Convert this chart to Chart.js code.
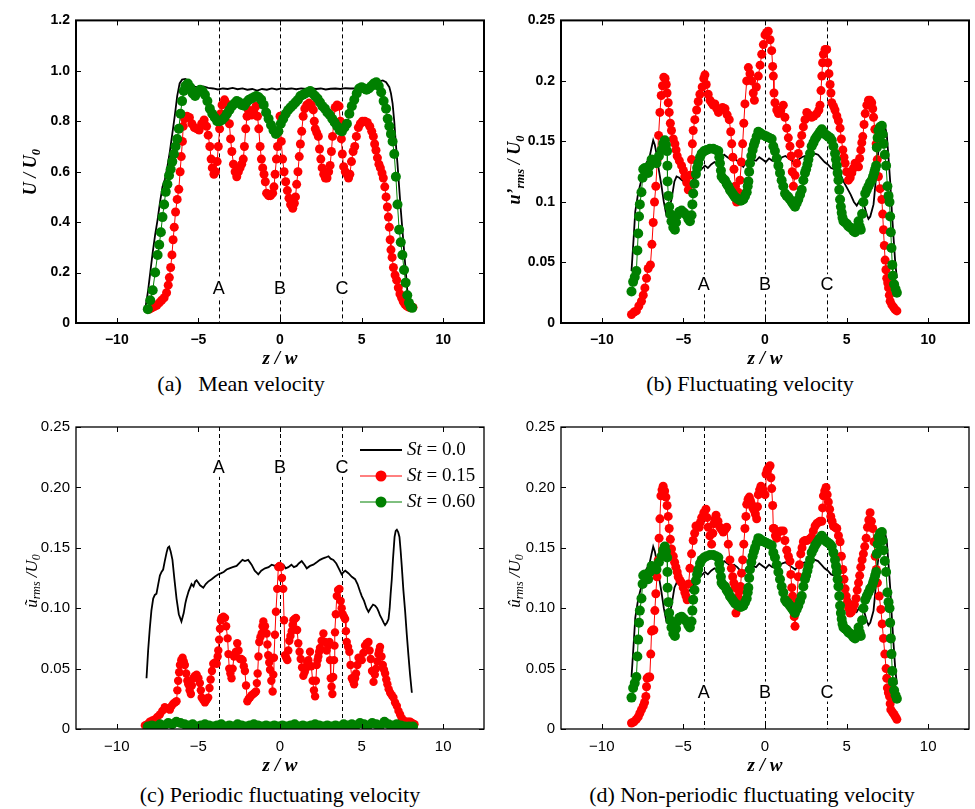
<!DOCTYPE html>
<html>
<head>
<meta charset="utf-8">
<script src="https://cdn.jsdelivr.net/npm/chart.js@4.4.1/dist/chart.umd.min.js"></script>
<style>
  body { margin: 0; background: #fff; width: 975px; height: 809px; position: relative; overflow: hidden; }
  canvas { position: absolute; }
  .lbl { position: absolute; white-space: nowrap; font-family: "Liberation Serif", "Times New Roman", serif; color: #000; line-height: 1; }
  .ytitle { transform: translate(-50%, -50%) rotate(-90deg); font-size: 18px; font-style: italic; }
  .small { font-size: 17px; }
  .xtitle { transform: translate(-50%, -50%); font-size: 19px; font-style: italic; font-weight: bold; }
  .cap { transform: translate(-50%, -50%); font-size: 22px; }
  .bold { font-weight: bold; }
  sub { font-size: 70%; vertical-align: -0.3em; }
</style>
</head>
<body>
<canvas id="pa"></canvas>
<canvas id="pb"></canvas>
<canvas id="pc"></canvas>
<canvas id="pd"></canvas>

<div class="lbl ytitle bold" style="left:32px; top:172px;">U / U<sub>0</sub></div>
<div class="lbl ytitle bold" style="left:516px; top:170px;">u&#8217;<sub>rms</sub> / U<sub>0</sub></div>
<div class="lbl ytitle small" style="left:33px; top:581px;">&#361;<sub>rms</sub> /U<sub>0</sub></div>
<div class="lbl ytitle small" style="left:516px; top:581px;">&#251;<sub>rms</sub> /U<sub>0</sub></div>

<div class="lbl xtitle" style="left:280px; top:357px;">z / w</div>
<div class="lbl xtitle" style="left:765px; top:357px;">z / w</div>
<div class="lbl xtitle" style="left:280px; top:764px;">z / w</div>
<div class="lbl xtitle" style="left:765px; top:764px;">z / w</div>

<div class="lbl cap" style="left:241px; top:384px;">(a)&nbsp;&nbsp;&nbsp;Mean velocity</div>
<div class="lbl cap" style="left:750px; top:384px;">(b) Fluctuating velocity</div>
<div class="lbl cap" style="left:280px; top:795px;">(c) Periodic fluctuating velocity</div>
<div class="lbl cap" style="left:752px; top:795px;">(d) Non-periodic fluctuating velocity</div>

<script>
// ---- data (z/w, value) ----
const zTicks = [-10, -5, 0, 5, 10];
const zTickLabels = ['\u221210', '\u22125', '0', '5', '10'];
const refZ = [-3.75, 0, 3.8];
const refNames = ['A', 'B', 'C'];
const legendNames = ['0.0', '0.15', '0.60'];

const aTicks = [0, 0.2, 0.4, 0.6, 0.8, 1.0, 1.2];
const aTickLabels = ['0', '0.2', '0.4', '0.6', '0.8', '1.0', '1.2'];
const bTicks = [0, 0.05, 0.1, 0.15, 0.2, 0.25];
const bTickLabels = ['0', '0.05', '0.1', '0.15', '0.2', '0.25'];
const cdTickLabels = ['0', '0.05', '0.10', '0.15', '0.20', '0.25'];

// (a) mean velocity U/U0
const aBlack = [[-8.25,0.06],[-8.1,0.12],[-7.95,0.2],[-7.8,0.28],[-7.65,0.35],[-7.5,0.41],[-7.35,0.48],[-7.2,0.54],[-7.05,0.57],[-6.9,0.62],[-6.75,0.68],[-6.6,0.75],[-6.45,0.82],[-6.3,0.9],[-6.15,0.95],[-6.0,0.965],[-5.8,0.968],[-5.6,0.96],[-5.4,0.94],[-5.2,0.937],[-5.0,0.935],[-4.7,0.938],[-4.4,0.932],[-4.1,0.93],[-3.8,0.926],[-3.5,0.93],[-3.2,0.928],[-2.9,0.932],[-2.6,0.927],[-2.3,0.93],[-2.0,0.925],[-1.7,0.928],[-1.4,0.922],[-1.1,0.928],[-0.8,0.925],[-0.5,0.93],[-0.2,0.926],[0.1,0.93],[0.4,0.928],[0.7,0.93],[1.0,0.927],[1.3,0.93],[1.6,0.928],[1.9,0.931],[2.2,0.928],[2.5,0.93],[2.8,0.926],[3.1,0.929],[3.4,0.93],[3.7,0.928],[4.0,0.931],[4.3,0.93],[4.6,0.93],[4.9,0.932],[5.2,0.933],[5.5,0.94],[5.8,0.95],[6.1,0.958],[6.3,0.962],[6.5,0.955],[6.7,0.935],[6.8,0.91],[6.9,0.87],[7.0,0.8],[7.1,0.71],[7.2,0.63],[7.3,0.54],[7.4,0.45],[7.5,0.37],[7.6,0.29],[7.7,0.21],[7.8,0.13],[7.9,0.08],[8.0,0.06]];
const aRed = [[-8.0,0.055],[-7.85,0.06],[-7.7,0.065],[-7.55,0.07],[-7.4,0.08],[-7.25,0.09],[-7.1,0.1],[-6.95,0.12],[-6.85,0.15],[-6.78,0.18],[-6.7,0.22],[-6.62,0.27],[-6.55,0.33],[-6.48,0.38],[-6.4,0.44],[-6.3,0.49],[-6.2,0.53],[-6.12,0.6],[-6.05,0.66],[-5.98,0.72],[-5.93,0.78],[-5.85,0.81],[-5.7,0.82],[-5.55,0.815],[-5.4,0.79],[-5.25,0.775],[-5.1,0.77],[-4.95,0.765],[-4.8,0.79],[-4.65,0.805],[-4.5,0.78],[-4.4,0.745],[-4.3,0.7],[-4.22,0.65],[-4.15,0.615],[-4.05,0.59],[-3.95,0.6],[-3.85,0.64],[-3.78,0.7],[-3.7,0.77],[-3.63,0.83],[-3.55,0.865],[-3.4,0.885],[-3.28,0.87],[-3.17,0.84],[-3.1,0.79],[-3.03,0.73],[-2.95,0.68],[-2.85,0.63],[-2.75,0.6],[-2.65,0.58],[-2.55,0.6],[-2.45,0.615],[-2.35,0.63],[-2.25,0.65],[-2.18,0.7],[-2.1,0.77],[-2.02,0.82],[-1.94,0.845],[-1.84,0.835],[-1.74,0.825],[-1.6,0.845],[-1.47,0.86],[-1.38,0.82],[-1.3,0.77],[-1.22,0.7],[-1.14,0.65],[-1.06,0.615],[-0.98,0.59],[-0.9,0.56],[-0.82,0.515],[-0.7,0.505],[-0.58,0.505],[-0.45,0.515],[-0.37,0.54],[-0.3,0.59],[-0.22,0.65],[-0.15,0.7],[-0.08,0.76],[0.0,0.82],[0.08,0.72],[0.16,0.65],[0.25,0.6],[0.35,0.56],[0.45,0.525],[0.55,0.495],[0.65,0.47],[0.78,0.455],[0.88,0.475],[0.95,0.5],[1.02,0.55],[1.1,0.6],[1.18,0.66],[1.25,0.71],[1.33,0.76],[1.42,0.82],[1.52,0.85],[1.64,0.865],[1.78,0.872],[1.92,0.865],[2.04,0.845],[2.1,0.8],[2.16,0.77],[2.25,0.755],[2.35,0.74],[2.42,0.69],[2.5,0.65],[2.58,0.615],[2.68,0.59],[2.78,0.575],[2.88,0.575],[2.98,0.6],[3.07,0.625],[3.15,0.68],[3.22,0.74],[3.3,0.8],[3.38,0.855],[3.5,0.865],[3.62,0.86],[3.7,0.8],[3.76,0.73],[3.82,0.67],[3.9,0.62],[4.0,0.6],[4.1,0.59],[4.2,0.575],[4.28,0.59],[4.38,0.64],[4.48,0.68],[4.58,0.7],[4.68,0.74],[4.8,0.775],[4.92,0.79],[5.05,0.8],[5.2,0.8],[5.35,0.795],[5.5,0.78],[5.62,0.76],[5.72,0.74],[5.8,0.71],[5.88,0.685],[5.97,0.655],[6.06,0.63],[6.15,0.615],[6.25,0.595],[6.33,0.575],[6.42,0.54],[6.5,0.5],[6.58,0.46],[6.64,0.42],[6.7,0.38],[6.75,0.33],[6.8,0.29],[6.87,0.26],[6.95,0.22],[7.05,0.19],[7.15,0.17],[7.25,0.14],[7.35,0.115],[7.45,0.1],[7.55,0.085],[7.65,0.075],[7.75,0.068],[7.88,0.063],[8.0,0.06],[8.15,0.062]];
const aGreen = [[-8.1,0.055],[-7.95,0.09],[-7.8,0.13],[-7.65,0.2],[-7.5,0.27],[-7.4,0.31],[-7.3,0.36],[-7.2,0.42],[-7.1,0.47],[-7.0,0.52],[-6.9,0.55],[-6.8,0.585],[-6.7,0.61],[-6.6,0.64],[-6.5,0.67],[-6.4,0.7],[-6.3,0.73],[-6.2,0.77],[-6.1,0.83],[-6.0,0.88],[-5.9,0.92],[-5.8,0.94],[-5.65,0.95],[-5.5,0.935],[-5.35,0.91],[-5.2,0.9],[-5.05,0.915],[-4.9,0.925],[-4.75,0.92],[-4.6,0.905],[-4.45,0.88],[-4.3,0.85],[-4.15,0.83],[-4.0,0.815],[-3.85,0.8],[-3.7,0.8],[-3.55,0.805],[-3.4,0.815],[-3.25,0.83],[-3.1,0.845],[-2.95,0.86],[-2.8,0.87],[-2.65,0.88],[-2.5,0.875],[-2.35,0.865],[-2.2,0.862],[-2.05,0.875],[-1.9,0.885],[-1.75,0.89],[-1.6,0.895],[-1.45,0.9],[-1.3,0.895],[-1.15,0.885],[-1.0,0.865],[-0.85,0.835],[-0.7,0.81],[-0.55,0.785],[-0.4,0.765],[-0.25,0.75],[-0.1,0.76],[0.05,0.79],[0.2,0.81],[0.35,0.83],[0.5,0.845],[0.65,0.855],[0.8,0.865],[0.95,0.875],[1.1,0.885],[1.25,0.9],[1.4,0.905],[1.55,0.91],[1.7,0.915],[1.85,0.92],[2.0,0.91],[2.15,0.9],[2.3,0.89],[2.45,0.875],[2.6,0.86],[2.75,0.85],[2.9,0.835],[3.05,0.825],[3.2,0.81],[3.35,0.795],[3.5,0.78],[3.65,0.765],[3.8,0.76],[3.95,0.775],[4.1,0.79],[4.25,0.83],[4.4,0.86],[4.55,0.885],[4.7,0.91],[4.85,0.93],[5.0,0.935],[5.15,0.93],[5.3,0.925],[5.45,0.93],[5.6,0.94],[5.75,0.95],[5.9,0.955],[6.05,0.94],[6.2,0.915],[6.35,0.88],[6.5,0.85],[6.6,0.81],[6.7,0.78],[6.8,0.75],[6.9,0.72],[7.0,0.67],[7.1,0.58],[7.2,0.47],[7.3,0.37],[7.4,0.32],[7.5,0.27],[7.6,0.21],[7.7,0.16],[7.8,0.11],[7.9,0.08],[8.0,0.065],[8.1,0.06]];

// (b) fluctuating velocity u'rms/U0  (black and green also used in (d))
const bBlack = [[-8.18,0.043],[-8.05,0.07],[-7.95,0.092],[-7.8,0.105],[-7.67,0.113],[-7.5,0.122],[-7.36,0.13],[-7.2,0.134],[-7.06,0.138],[-6.95,0.145],[-6.85,0.151],[-6.75,0.147],[-6.65,0.14],[-6.5,0.126],[-6.34,0.113],[-6.2,0.1],[-6.04,0.089],[-5.9,0.093],[-5.73,0.102],[-5.55,0.117],[-5.42,0.121],[-5.25,0.12],[-5.1,0.118],[-4.9,0.116],[-4.7,0.114],[-4.5,0.116],[-4.3,0.122],[-4.1,0.125],[-3.9,0.127],[-3.68,0.13],[-3.5,0.128],[-3.3,0.131],[-3.1,0.133],[-2.9,0.131],[-2.7,0.136],[-2.5,0.139],[-2.3,0.137],[-2.1,0.135],[-1.9,0.136],[-1.7,0.134],[-1.5,0.131],[-1.33,0.129],[-1.15,0.133],[-0.95,0.136],[-0.75,0.135],[-0.55,0.134],[-0.35,0.137],[-0.15,0.135],[0.05,0.133],[0.25,0.136],[0.45,0.134],[0.65,0.136],[0.85,0.134],[1.05,0.137],[1.25,0.138],[1.45,0.136],[1.65,0.134],[1.85,0.132],[2.05,0.135],[2.25,0.137],[2.45,0.138],[2.65,0.136],[2.85,0.138],[3.05,0.14],[3.25,0.139],[3.45,0.136],[3.65,0.133],[3.85,0.131],[4.05,0.128],[4.25,0.127],[4.45,0.125],[4.65,0.122],[4.85,0.116],[5.05,0.111],[5.25,0.106],[5.45,0.1],[5.62,0.097],[5.8,0.101],[5.95,0.102],[6.1,0.096],[6.25,0.089],[6.34,0.086],[6.45,0.088],[6.55,0.093],[6.65,0.098],[6.75,0.112],[6.85,0.13],[6.95,0.142],[7.05,0.152],[7.15,0.16],[7.26,0.163],[7.36,0.162],[7.46,0.156],[7.56,0.138],[7.67,0.117],[7.77,0.093],[7.88,0.07],[7.98,0.05],[8.08,0.037]];
const bRed = [[-8.18,0.007],[-8.03,0.009],[-7.88,0.01],[-7.73,0.014],[-7.57,0.018],[-7.46,0.023],[-7.36,0.029],[-7.26,0.037],[-7.16,0.045],[-7.02,0.048],[-6.93,0.065],[-6.85,0.083],[-6.77,0.1],[-6.69,0.113],[-6.6,0.135],[-6.52,0.155],[-6.44,0.174],[-6.36,0.188],[-6.28,0.196],[-6.2,0.203],[-6.12,0.202],[-6.05,0.197],[-6.0,0.19],[-5.93,0.182],[-5.87,0.174],[-5.8,0.165],[-5.73,0.159],[-5.62,0.152],[-5.52,0.148],[-5.45,0.143],[-5.38,0.138],[-5.25,0.134],[-5.11,0.13],[-5.0,0.126],[-4.91,0.121],[-4.8,0.116],[-4.7,0.11],[-4.6,0.122],[-4.5,0.135],[-4.45,0.148],[-4.4,0.159],[-4.3,0.168],[-4.19,0.176],[-4.09,0.183],[-3.99,0.189],[-3.85,0.195],[-3.75,0.202],[-3.68,0.205],[-3.6,0.197],[-3.48,0.189],[-3.37,0.184],[-3.27,0.182],[-3.17,0.18],[-3.07,0.181],[-2.95,0.177],[-2.85,0.174],[-2.76,0.176],[-2.6,0.178],[-2.45,0.177],[-2.32,0.172],[-2.19,0.168],[-2.1,0.158],[-2.04,0.148],[-1.97,0.137],[-1.9,0.127],[-1.82,0.113],[-1.74,0.1],[-1.64,0.108],[-1.53,0.118],[-1.45,0.133],[-1.37,0.148],[-1.3,0.165],[-1.23,0.181],[-1.12,0.2],[-1.02,0.211],[-0.92,0.206],[-0.82,0.2],[-0.72,0.19],[-0.65,0.184],[-0.53,0.195],[-0.41,0.204],[-0.3,0.213],[-0.2,0.222],[-0.1,0.23],[0.0,0.238],[0.1,0.24],[0.2,0.241],[0.31,0.234],[0.41,0.225],[0.47,0.212],[0.51,0.204],[0.55,0.19],[0.61,0.182],[0.72,0.176],[0.82,0.173],[0.97,0.176],[1.12,0.18],[1.22,0.17],[1.33,0.161],[1.43,0.153],[1.53,0.146],[1.6,0.138],[1.67,0.125],[1.74,0.113],[1.84,0.122],[1.94,0.132],[2.04,0.14],[2.15,0.148],[2.25,0.155],[2.35,0.162],[2.45,0.168],[2.56,0.174],[2.7,0.172],[2.86,0.17],[3.0,0.171],[3.17,0.173],[3.3,0.176],[3.37,0.18],[3.43,0.192],[3.48,0.204],[3.53,0.215],[3.58,0.222],[3.68,0.226],[3.78,0.226],[3.85,0.215],[3.92,0.206],[3.99,0.197],[4.04,0.19],[4.09,0.182],[4.2,0.179],[4.29,0.176],[4.4,0.171],[4.5,0.167],[4.6,0.161],[4.68,0.152],[4.77,0.143],[4.84,0.137],[4.91,0.132],[5.0,0.125],[5.11,0.118],[5.22,0.12],[5.32,0.124],[5.42,0.128],[5.52,0.132],[5.62,0.13],[5.73,0.129],[5.8,0.136],[5.87,0.143],[5.93,0.149],[5.99,0.154],[6.07,0.164],[6.14,0.173],[6.24,0.18],[6.34,0.184],[6.44,0.184],[6.54,0.182],[6.6,0.177],[6.65,0.17],[6.73,0.16],[6.81,0.148],[6.88,0.135],[6.95,0.121],[7.05,0.111],[7.16,0.102],[7.21,0.09],[7.26,0.077],[7.31,0.064],[7.36,0.052],[7.41,0.044],[7.46,0.037],[7.52,0.033],[7.57,0.029],[7.62,0.023],[7.67,0.018],[7.77,0.015],[7.88,0.013],[7.98,0.011],[8.08,0.01]];
const bGreen = [[-8.18,0.026],[-8.08,0.034],[-7.98,0.038],[-7.88,0.043],[-7.82,0.06],[-7.77,0.074],[-7.72,0.088],[-7.67,0.098],[-7.57,0.108],[-7.5,0.12],[-7.46,0.127],[-7.36,0.128],[-7.26,0.126],[-7.16,0.124],[-7.06,0.13],[-6.95,0.135],[-6.85,0.134],[-6.75,0.133],[-6.65,0.132],[-6.5,0.138],[-6.34,0.143],[-6.24,0.148],[-6.14,0.151],[-6.07,0.147],[-6.0,0.142],[-5.98,0.13],[-5.97,0.117],[-5.92,0.105],[-5.87,0.096],[-5.8,0.09],[-5.73,0.084],[-5.62,0.079],[-5.52,0.077],[-5.45,0.083],[-5.38,0.089],[-5.25,0.092],[-5.11,0.093],[-4.96,0.091],[-4.81,0.089],[-4.7,0.086],[-4.6,0.084],[-4.5,0.089],[-4.45,0.098],[-4.4,0.107],[-4.32,0.115],[-4.23,0.123],[-4.16,0.128],[-4.09,0.132],[-3.98,0.137],[-3.88,0.14],[-3.73,0.142],[-3.58,0.143],[-3.38,0.144],[-3.17,0.144],[-3.0,0.143],[-2.86,0.142],[-2.8,0.137],[-2.76,0.132],[-2.7,0.126],[-2.66,0.121],[-2.55,0.119],[-2.45,0.118],[-2.35,0.115],[-2.25,0.113],[-2.15,0.11],[-2.04,0.108],[-1.94,0.106],[-1.84,0.104],[-1.73,0.103],[-1.63,0.102],[-1.48,0.101],[-1.33,0.102],[-1.22,0.105],[-1.12,0.108],[-1.06,0.113],[-1.02,0.117],[-0.97,0.125],[-0.92,0.132],[-0.84,0.138],[-0.76,0.143],[-0.68,0.147],[-0.61,0.15],[-0.51,0.154],[-0.41,0.158],[-0.3,0.157],[-0.2,0.156],[-0.05,0.155],[0.1,0.154],[0.25,0.153],[0.41,0.152],[0.51,0.146],[0.61,0.142],[0.72,0.136],[0.82,0.13],[0.92,0.124],[1.02,0.118],[1.12,0.113],[1.23,0.107],[1.33,0.105],[1.43,0.104],[1.53,0.102],[1.64,0.1],[1.74,0.098],[1.84,0.096],[1.94,0.099],[2.04,0.102],[2.15,0.106],[2.25,0.11],[2.35,0.118],[2.45,0.124],[2.52,0.127],[2.6,0.131],[2.66,0.135],[2.76,0.14],[2.86,0.146],[2.97,0.149],[3.07,0.152],[3.17,0.154],[3.27,0.156],[3.37,0.158],[3.48,0.16],[3.58,0.158],[3.68,0.156],[3.78,0.155],[3.88,0.154],[3.99,0.153],[4.09,0.151],[4.19,0.146],[4.29,0.14],[4.35,0.135],[4.4,0.13],[4.45,0.124],[4.5,0.118],[4.55,0.11],[4.6,0.102],[4.65,0.096],[4.7,0.091],[4.75,0.087],[4.81,0.084],[4.91,0.083],[5.01,0.082],[5.11,0.08],[5.21,0.079],[5.32,0.078],[5.42,0.076],[5.52,0.075],[5.62,0.079],[5.73,0.084],[5.8,0.08],[5.87,0.077],[5.95,0.09],[6.03,0.1],[6.14,0.107],[6.24,0.11],[6.34,0.113],[6.44,0.116],[6.54,0.118],[6.62,0.121],[6.69,0.124],[6.75,0.127],[6.81,0.13],[6.85,0.145],[6.9,0.153],[6.95,0.159],[7.05,0.162],[7.16,0.163],[7.21,0.156],[7.26,0.148],[7.34,0.139],[7.42,0.13],[7.5,0.113],[7.57,0.105],[7.63,0.1],[7.67,0.088],[7.71,0.075],[7.75,0.062],[7.8,0.048],[7.83,0.039],[7.91,0.032],[8.0,0.028],[8.08,0.025]];

// (c) periodic fluctuating velocity
const cBlack = [[-8.18,0.042],[-8.08,0.065],[-7.98,0.083],[-7.88,0.098],[-7.77,0.108],[-7.67,0.111],[-7.57,0.112],[-7.46,0.12],[-7.36,0.127],[-7.26,0.13],[-7.16,0.132],[-7.06,0.139],[-6.95,0.146],[-6.87,0.15],[-6.79,0.151],[-6.7,0.147],[-6.59,0.14],[-6.47,0.124],[-6.34,0.108],[-6.2,0.095],[-6.04,0.089],[-5.9,0.096],[-5.8,0.104],[-5.73,0.108],[-5.6,0.114],[-5.42,0.12],[-5.3,0.118],[-5.2,0.122],[-5.11,0.123],[-5.0,0.121],[-4.9,0.119],[-4.8,0.118],[-4.7,0.117],[-4.55,0.12],[-4.4,0.122],[-4.19,0.124],[-4.0,0.126],[-3.78,0.128],[-3.6,0.129],[-3.45,0.13],[-3.27,0.132],[-3.1,0.133],[-2.9,0.134],[-2.66,0.135],[-2.45,0.138],[-2.3,0.14],[-2.15,0.139],[-1.95,0.14],[-1.74,0.136],[-1.55,0.131],[-1.4,0.129],[-1.33,0.128],[-1.15,0.131],[-0.92,0.133],[-0.7,0.134],[-0.51,0.136],[-0.3,0.135],[-0.1,0.137],[0.0,0.135],[0.2,0.136],[0.35,0.133],[0.51,0.134],[0.7,0.136],[0.85,0.134],[1.02,0.135],[1.15,0.137],[1.33,0.139],[1.5,0.136],[1.64,0.133],[1.84,0.135],[2.04,0.136],[2.25,0.138],[2.45,0.14],[2.6,0.141],[2.8,0.142],[2.97,0.143],[3.1,0.141],[3.27,0.14],[3.45,0.137],[3.6,0.133],[3.78,0.128],[3.9,0.13],[4.0,0.131],[4.19,0.129],[4.4,0.126],[4.6,0.124],[4.75,0.12],[4.9,0.114],[5.01,0.11],[5.15,0.106],[5.3,0.1],[5.42,0.097],[5.55,0.1],[5.7,0.103],[5.83,0.102],[5.95,0.1],[6.05,0.097],[6.13,0.094],[6.25,0.091],[6.35,0.088],[6.44,0.086],[6.55,0.088],[6.65,0.091],[6.72,0.1],[6.78,0.112],[6.85,0.124],[6.92,0.14],[7.02,0.159],[7.09,0.164],[7.16,0.165],[7.24,0.163],[7.32,0.159],[7.39,0.148],[7.46,0.135],[7.56,0.115],[7.67,0.097],[7.77,0.078],[7.87,0.061],[7.97,0.045],[8.08,0.03]];
const cRed = [[-8.28,0.003],[-8.13,0.004],[-7.98,0.006],[-7.82,0.007],[-7.67,0.008],[-7.52,0.01],[-7.36,0.012],[-7.21,0.015],[-7.06,0.018],[-6.9,0.017],[-6.75,0.016],[-6.64,0.019],[-6.54,0.021],[-6.44,0.022],[-6.34,0.023],[-6.29,0.032],[-6.24,0.04],[-6.18,0.047],[-6.13,0.053],[-6.05,0.057],[-5.97,0.059],[-5.9,0.056],[-5.83,0.053],[-5.75,0.046],[-5.68,0.04],[-5.62,0.037],[-5.54,0.032],[-5.46,0.029],[-5.4,0.036],[-5.32,0.042],[-5.22,0.044],[-5.11,0.045],[-5.0,0.042],[-4.91,0.038],[-4.85,0.032],[-4.8,0.026],[-4.7,0.024],[-4.6,0.022],[-4.5,0.024],[-4.4,0.026],[-4.32,0.034],[-4.25,0.041],[-4.17,0.048],[-4.09,0.054],[-3.98,0.055],[-3.88,0.054],[-3.82,0.06],[-3.78,0.065],[-3.73,0.074],[-3.68,0.083],[-3.62,0.09],[-3.58,0.092],[-3.47,0.093],[-3.37,0.092],[-3.3,0.085],[-3.21,0.075],[-3.16,0.062],[-3.11,0.05],[-3.04,0.046],[-2.97,0.042],[-2.9,0.05],[-2.82,0.06],[-2.76,0.062],[-2.7,0.064],[-2.62,0.071],[-2.54,0.065],[-2.45,0.058],[-2.37,0.058],[-2.29,0.057],[-2.22,0.052],[-2.15,0.048],[-2.08,0.036],[-2.0,0.023],[-1.92,0.025],[-1.84,0.026],[-1.74,0.028],[-1.64,0.029],[-1.55,0.03],[-1.47,0.031],[-1.42,0.038],[-1.37,0.046],[-1.32,0.06],[-1.27,0.072],[-1.2,0.076],[-1.12,0.079],[-1.07,0.085],[-1.02,0.089],[-0.92,0.085],[-0.82,0.079],[-0.77,0.07],[-0.72,0.061],[-0.66,0.055],[-0.61,0.049],[-0.53,0.04],[-0.45,0.031],[-0.41,0.045],[-0.37,0.059],[-0.31,0.078],[-0.25,0.097],[-0.17,0.116],[-0.1,0.134],[-0.03,0.135],[0.04,0.134],[0.12,0.125],[0.2,0.116],[0.25,0.09],[0.31,0.061],[0.38,0.059],[0.45,0.057],[0.51,0.065],[0.57,0.073],[0.64,0.077],[0.72,0.081],[0.77,0.086],[0.82,0.09],[0.9,0.091],[0.98,0.092],[1.05,0.082],[1.12,0.071],[1.2,0.064],[1.27,0.058],[1.35,0.051],[1.43,0.044],[1.51,0.047],[1.59,0.05],[1.67,0.055],[1.74,0.057],[1.84,0.064],[1.92,0.052],[2.0,0.04],[2.08,0.032],[2.15,0.027],[2.2,0.04],[2.25,0.053],[2.3,0.057],[2.35,0.06],[2.4,0.064],[2.45,0.067],[2.55,0.073],[2.66,0.079],[2.76,0.072],[2.86,0.065],[2.95,0.069],[3.03,0.072],[3.07,0.057],[3.11,0.042],[3.16,0.035],[3.21,0.029],[3.26,0.043],[3.31,0.057],[3.34,0.069],[3.37,0.08],[3.42,0.095],[3.48,0.11],[3.56,0.115],[3.64,0.116],[3.72,0.106],[3.78,0.1],[3.84,0.095],[3.92,0.093],[3.99,0.091],[4.04,0.081],[4.09,0.072],[4.17,0.068],[4.25,0.064],[4.32,0.053],[4.4,0.042],[4.47,0.04],[4.54,0.037],[4.6,0.042],[4.66,0.046],[4.74,0.053],[4.81,0.059],[4.91,0.058],[5.01,0.057],[5.11,0.063],[5.21,0.069],[5.32,0.071],[5.42,0.072],[5.49,0.065],[5.56,0.058],[5.64,0.048],[5.73,0.039],[5.81,0.045],[5.89,0.05],[5.96,0.056],[6.03,0.062],[6.08,0.065],[6.13,0.068],[6.22,0.06],[6.3,0.053],[6.37,0.049],[6.44,0.046],[6.51,0.041],[6.58,0.037],[6.66,0.033],[6.75,0.03],[6.85,0.028],[6.95,0.026],[7.05,0.022],[7.16,0.019],[7.26,0.015],[7.36,0.012],[7.46,0.009],[7.57,0.007],[7.67,0.006],[7.77,0.006],[7.88,0.006],[7.98,0.006],[8.1,0.005],[8.24,0.004]];
const cGreen = [[-8.1,0.002],[-7.85,0.003],[-7.6,0.002],[-7.35,0.004],[-7.1,0.003],[-6.85,0.005],[-6.6,0.004],[-6.35,0.006],[-6.1,0.005],[-5.85,0.004],[-5.6,0.003],[-5.35,0.004],[-5.1,0.002],[-4.85,0.003],[-4.6,0.004],[-4.35,0.003],[-4.1,0.002],[-3.85,0.003],[-3.6,0.004],[-3.35,0.002],[-3.1,0.003],[-2.85,0.002],[-2.6,0.004],[-2.35,0.003],[-2.1,0.002],[-1.85,0.003],[-1.6,0.004],[-1.35,0.003],[-1.1,0.002],[-0.85,0.003],[-0.6,0.002],[-0.35,0.003],[-0.1,0.002],[0.15,0.003],[0.4,0.002],[0.65,0.003],[0.9,0.004],[1.15,0.002],[1.4,0.003],[1.65,0.002],[1.9,0.003],[2.15,0.004],[2.4,0.003],[2.65,0.002],[2.9,0.003],[3.15,0.002],[3.4,0.003],[3.65,0.002],[3.9,0.004],[4.15,0.003],[4.4,0.004],[4.65,0.003],[4.9,0.005],[5.15,0.004],[5.4,0.003],[5.65,0.005],[5.9,0.004],[6.15,0.003],[6.4,0.006],[6.65,0.004],[6.9,0.003],[7.15,0.004],[7.4,0.003],[7.65,0.002],[7.9,0.002],[8.15,0.002]];

// (d) non-periodic fluctuating velocity (red differs, black/green same as (b))
const dRed = [[-8.18,0.005],[-8.03,0.006],[-7.88,0.008],[-7.77,0.01],[-7.67,0.013],[-7.57,0.016],[-7.46,0.019],[-7.38,0.022],[-7.3,0.027],[-7.26,0.035],[-7.22,0.042],[-7.14,0.043],[-7.06,0.043],[-7.0,0.062],[-6.95,0.081],[-6.88,0.082],[-6.81,0.082],[-6.75,0.098],[-6.69,0.112],[-6.62,0.126],[-6.54,0.14],[-6.49,0.158],[-6.44,0.174],[-6.38,0.193],[-6.31,0.198],[-6.24,0.201],[-6.15,0.197],[-6.07,0.192],[-6.0,0.185],[-5.93,0.176],[-5.87,0.166],[-5.8,0.157],[-5.73,0.149],[-5.62,0.143],[-5.54,0.138],[-5.46,0.134],[-5.38,0.13],[-5.32,0.126],[-5.21,0.123],[-5.11,0.121],[-5.01,0.117],[-4.91,0.113],[-4.84,0.11],[-4.77,0.107],[-4.68,0.12],[-4.6,0.133],[-4.5,0.145],[-4.4,0.156],[-4.31,0.162],[-4.23,0.168],[-4.13,0.168],[-4.03,0.167],[-3.96,0.171],[-3.88,0.175],[-3.75,0.179],[-3.62,0.182],[-3.55,0.175],[-3.48,0.167],[-3.38,0.16],[-3.27,0.153],[-3.2,0.162],[-3.13,0.17],[-3.06,0.174],[-3.0,0.177],[-2.88,0.172],[-2.76,0.167],[-2.66,0.165],[-2.56,0.163],[-2.45,0.165],[-2.35,0.167],[-2.25,0.153],[-2.15,0.14],[-2.06,0.133],[-1.98,0.126],[-1.91,0.121],[-1.84,0.117],[-1.78,0.096],[-1.71,0.102],[-1.64,0.109],[-1.57,0.114],[-1.5,0.118],[-1.44,0.129],[-1.37,0.14],[-1.3,0.153],[-1.23,0.166],[-1.17,0.176],[-1.12,0.186],[-1.04,0.19],[-0.96,0.192],[-0.89,0.189],[-0.82,0.186],[-0.74,0.183],[-0.67,0.181],[-0.59,0.178],[-0.51,0.174],[-0.46,0.184],[-0.41,0.194],[-0.33,0.198],[-0.25,0.201],[-0.12,0.198],[0.0,0.194],[0.06,0.211],[0.13,0.214],[0.2,0.216],[0.26,0.217],[0.31,0.218],[0.36,0.208],[0.41,0.199],[0.47,0.185],[0.51,0.166],[0.55,0.166],[0.64,0.16],[0.72,0.158],[0.82,0.163],[0.97,0.164],[1.12,0.164],[1.22,0.156],[1.33,0.148],[1.43,0.143],[1.53,0.139],[1.58,0.128],[1.64,0.117],[1.69,0.11],[1.74,0.102],[1.79,0.093],[1.84,0.085],[1.94,0.105],[2.04,0.126],[2.11,0.136],[2.19,0.145],[2.27,0.15],[2.35,0.155],[2.45,0.156],[2.56,0.156],[2.7,0.157],[2.86,0.159],[2.96,0.164],[3.07,0.168],[3.17,0.17],[3.27,0.171],[3.37,0.172],[3.48,0.172],[3.53,0.183],[3.58,0.193],[3.66,0.197],[3.74,0.2],[3.81,0.194],[3.88,0.188],[3.96,0.182],[4.03,0.176],[4.11,0.172],[4.19,0.168],[4.3,0.167],[4.4,0.166],[4.5,0.16],[4.6,0.155],[4.68,0.143],[4.77,0.132],[4.84,0.124],[4.91,0.116],[4.98,0.11],[5.05,0.105],[5.13,0.1],[5.21,0.096],[5.3,0.097],[5.38,0.099],[5.48,0.103],[5.58,0.108],[5.65,0.115],[5.73,0.121],[5.8,0.127],[5.87,0.134],[5.95,0.14],[6.03,0.145],[6.11,0.151],[6.2,0.158],[6.28,0.167],[6.36,0.173],[6.44,0.179],[6.52,0.172],[6.6,0.166],[6.68,0.155],[6.75,0.143],[6.82,0.132],[6.89,0.121],[7.0,0.11],[7.1,0.099],[7.18,0.087],[7.26,0.075],[7.34,0.062],[7.42,0.05],[7.46,0.042],[7.5,0.034],[7.56,0.03],[7.63,0.027],[7.67,0.021],[7.71,0.016],[7.81,0.014],[7.91,0.012],[8.0,0.01],[8.08,0.008]];

// ---- drawing ----
const RED = '#ff0000', GREEN = '#008000';

function pts(arr) {
  return arr.map(p => ({ x: p[0], y: p[1] }));
}
function blackSet(d) {
  return { data: pts(d), borderColor: '#000', borderWidth: 1.8, pointRadius: 0, order: 3 };
}
function markerSet(d, color, r) {
  return { data: pts(d), borderColor: color, borderWidth: 1, pointRadius: r, pointBorderWidth: 0,
           pointBackgroundColor: color, backgroundColor: color, order: color === RED ? 2 : 1 };
}

// dashed reference lines, A/B/C labels, boxed frame with inward ticks, legend
const framePlugin = {
  id: 'frame',
  beforeDatasetsDraw(chart) {
    const { ctx, chartArea: a, scales: { x } } = chart;
    ctx.save();
    ctx.strokeStyle = '#000';
    ctx.lineWidth = 1;
    ctx.setLineDash([4, 3]);
    refZ.forEach(z => {
      const px = Math.round(x.getPixelForValue(z)) + 0.5;
      ctx.beginPath(); ctx.moveTo(px, a.top); ctx.lineTo(px, a.bottom); ctx.stroke();
    });
    ctx.restore();
  },
  afterDatasetsDraw(chart, args, opts) {
    const { ctx, chartArea: a, scales: { x, y } } = chart;
    ctx.save();
    // A B C
    ctx.font = '18px "Liberation Sans", Arial, sans-serif';
    ctx.textAlign = 'center';
    ctx.textBaseline = 'middle';
    const ly = y.getPixelForValue(opts.labelAt);
    refZ.forEach((z, i) => {
      const px = x.getPixelForValue(z);
      ctx.fillStyle = '#fff';
      ctx.fillRect(px - 7, ly - 10, 14, 20);
      ctx.fillStyle = '#000';
      ctx.fillText(refNames[i], px, ly + 1);
    });
    // frame
    ctx.strokeStyle = '#000';
    ctx.lineWidth = opts.frameWidth;
    ctx.strokeRect(a.left, a.top, a.right - a.left, a.bottom - a.top);
    ctx.lineWidth = 1;
    ctx.beginPath();
    zTicks.forEach(v => {
      const px = Math.round(x.getPixelForValue(v)) + 0.5;
      ctx.moveTo(px, a.bottom); ctx.lineTo(px, a.bottom - 5);
      ctx.moveTo(px, a.top); ctx.lineTo(px, a.top + 5);
    });
    opts.yTicks.forEach(v => {
      const py = Math.round(y.getPixelForValue(v)) + 0.5;
      ctx.moveTo(a.left, py); ctx.lineTo(a.left + 5, py);
      ctx.moveTo(a.right, py); ctx.lineTo(a.right - 5, py);
    });
    ctx.stroke();
    // legend (panel c only)
    if (opts.legend) {
      const colors = ['#000', RED, GREEN];
      const x0 = a.right - 124, x1 = a.right - 82, tx = a.right - 77;
      ctx.textAlign = 'left';
      ctx.textBaseline = 'middle';
      colors.forEach((c, i) => {
        const ry = a.top + 23 + i * 26;
        ctx.strokeStyle = c;
        ctx.lineWidth = i === 0 ? 2 : 1;
        ctx.beginPath(); ctx.moveTo(x0, ry); ctx.lineTo(x1, ry); ctx.stroke();
        if (i > 0) {
          ctx.fillStyle = c;
          ctx.beginPath(); ctx.arc((x0 + x1) / 2, ry, 5.5, 0, Math.PI * 2); ctx.fill();
        }
        ctx.fillStyle = '#000';
        ctx.font = 'italic 19px "Liberation Serif", serif';
        ctx.fillText('St', tx, ry);
        const w = ctx.measureText('St').width;
        ctx.font = '19px "Liberation Serif", serif';
        ctx.fillText(' = ' + legendNames[i], tx + w, ry);
      });
    }
    ctx.restore();
  }
};

function makePanel(p) {
  const cv = document.getElementById(p.id);
  cv.width = p.R - p.L + 75;
  cv.height = p.B - p.T + 40;
  cv.style.left = (p.L - 70) + 'px';
  cv.style.top = (p.T - 10) + 'px';
  const tickFont = p.bold
    ? { family: '"Liberation Sans", Arial, sans-serif', size: 14, weight: 'bold' }
    : { family: '"Liberation Sans", Arial, sans-serif', size: 15, weight: 'normal' };
  new Chart(cv, {
    type: 'line',
    data: { datasets: p.sets },
    options: {
      responsive: false,
      animation: false,
      events: [],
      layout: { padding: { left: 0, right: 5, top: 10, bottom: 0 } },
      plugins: {
        legend: { display: false },
        tooltip: { enabled: false },
        frame: { labelAt: p.labelAt, frameWidth: p.bold ? 2 : 1.3, yTicks: p.yTicks, legend: !!p.legend }
      },
      scales: {
        x: {
          type: 'linear', min: -12.5, max: 12.5,
          grid: { display: false, drawTicks: false }, border: { display: false },
          afterFit: s => { s.height = 30; },
          afterBuildTicks: s => { s.ticks = zTicks.map(v => ({ value: v })); },
          ticks: { color: '#000', font: tickFont, padding: 9, maxRotation: 0, autoSkip: false,
                   callback: v => zTickLabels[zTicks.indexOf(v)] }
        },
        y: {
          type: 'linear', min: 0, max: p.yMax,
          grid: { display: false, drawTicks: false }, border: { display: false },
          afterFit: s => { s.width = 70; },
          afterBuildTicks: s => { s.ticks = p.yTicks.map(v => ({ value: v })); },
          ticks: { color: '#000', font: tickFont, padding: 6, autoSkip: false,
                   callback: v => p.yLabels[p.yTicks.indexOf(v)] }
        }
      }
    },
    plugins: [framePlugin]
  });
}

makePanel({ id: 'pa', L: 76, T: 16, R: 484, B: 323, bold: true, yMax: 1.2, yTicks: aTicks, yLabels: aTickLabels, labelAt: 0.14,
  sets: [blackSet(aBlack), markerSet(aRed, RED, 4.5), markerSet(aGreen, GREEN, 5)] });
makePanel({ id: 'pb', L: 561, T: 16, R: 969, B: 323, bold: true, yMax: 0.25, yTicks: bTicks, yLabels: bTickLabels, labelAt: 0.032,
  sets: [blackSet(bBlack), markerSet(bRed, RED, 4.5), markerSet(bGreen, GREEN, 5)] });
makePanel({ id: 'pc', L: 76, T: 422, R: 484, B: 729, bold: false, yMax: 0.25, yTicks: bTicks, yLabels: cdTickLabels, labelAt: 0.217, legend: true,
  sets: [blackSet(cBlack), markerSet(cRed, RED, 4.2), markerSet(cGreen, GREEN, 5)] });
makePanel({ id: 'pd', L: 561, T: 422, R: 969, B: 729, bold: false, yMax: 0.25, yTicks: bTicks, yLabels: cdTickLabels, labelAt: 0.031,
  sets: [blackSet(bBlack), markerSet(dRed, RED, 4.5), markerSet(bGreen, GREEN, 5)] });
</script>
</body>
</html>
